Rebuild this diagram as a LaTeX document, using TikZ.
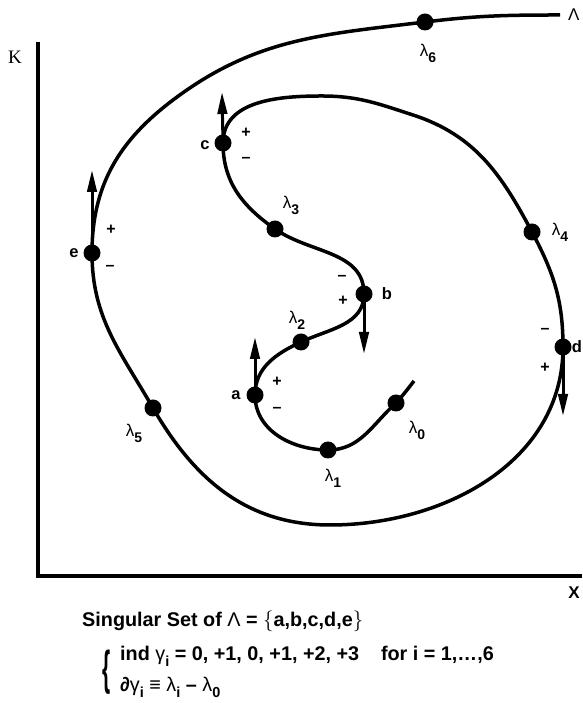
\documentclass[tikz,border=0pt]{standalone}
\usepackage{fontspec}
\setmainfont{Liberation Sans}
\newfontfamily\serif{Liberation Serif}
\usetikzlibrary{arrows.meta}
\newcommand\lsub[2]{{\mdseries #1}\raisebox{-0.36em}{\bfseries\fontsize{14}{14}\selectfont #2}}
\newcommand\tsub[2]{{\mdseries #1}\raisebox{-0.3em}{\bfseries\fontsize{14.5}{14.5}\selectfont #2}}
\begin{document}
\begin{tikzpicture}[x=1pt,y=1pt,
  curve/.style={line width=3.5pt},
  dot/.style={circle,fill=black,inner sep=0pt,minimum size=17pt},
  ptlab/.style={font=\bfseries\fontsize{16.5}{16.5}\selectfont,inner sep=0pt},
  sgn/.style={font=\bfseries\fontsize{16}{16}\selectfont,inner sep=0pt},
  lamlab/.style={font=\fontsize{17}{17}\selectfont,inner sep=0pt},
  vec/.style={line width=3pt,-{Triangle[length=22pt,width=9.5pt]}},
  axis/.style={line width=3.4pt},
  txt/.style={font=\bfseries\fontsize{19.8}{19.8}\selectfont,inner sep=0pt,anchor=base west}]
\useasboundingbox (0,0) rectangle (582,703);
% axes
\coordinate (ytop) at (38,661);
\coordinate (orig) at (38,127);
\coordinate (xend) at (582,127);
\draw[axis] (ytop) -- (orig) -- (xend);
\node[font=\serif\fontsize{19}{19}\selectfont,inner sep=0pt] (K) at (15,646) {K};
\node[font=\bfseries\fontsize{17}{17}\selectfont,inner sep=0pt] (X) at (574,110) {X};
% spiral points
\coordinate (tip) at (414,322);
\coordinate (l0) at (396,300);
\coordinate (l1) at (328,253);
\coordinate (a) at (255,308);
\coordinate (l2) at (301,361);
\coordinate (b) at (364,409);
\coordinate (l3) at (275,474);
\coordinate (c) at (223,560);
\coordinate (ti) at (322,607);
\coordinate (t2) at (413,588);
\coordinate (l4) at (532,471);
\coordinate (d) at (563,356);
\coordinate (bo) at (330,178);
\coordinate (l5) at (153,295);
\coordinate (e) at (92,450);
\coordinate (o1) at (173,603);
\coordinate (l6) at (425,681);
\coordinate (fin) at (560,688);
\draw[curve] (tip) to[out=232,in=48] (l0) to[out=222,in=0] (l1)
  to[out=180,in=270] (a) to[out=90,in=205] (l2) to[out=25,in=270] (b)
  to[out=90,in=325] (l3) to[out=145,in=270] (c) to[out=90,in=180] (ti)
  to[out=0,in=162] (t2) to[out=-18,in=118] (l4) to[out=298,in=90] (d)
  to[out=270,in=0] (bo) to[out=180,in=300] (l5) to[out=120,in=270] (e)
  to[out=90,in=217] (o1) to[out=37,in=187] (l6) to[out=7,in=180] (fin);
% arrows
\coordinate (atop) at (255,366);
\coordinate (ctop) at (222,611);
\coordinate (etop) at (92,533);
\coordinate (bbot) at (364,349);
\coordinate (dbot) at (563,287);
\draw[vec] (a) -- (atop);
\draw[vec] (c) -- (ctop);
\draw[vec] (e) -- (etop);
\draw[vec] (b) -- (bbot);
\draw[vec] (d) -- (dbot);
% dots
\foreach \p in {l0,l1,a,l2,b,l3,c,l4,d,l5,e,l6}
  \node[dot] (n\p) at (\p) {};
% point labels
\node[ptlab] (la) at (236,308) {a};
\node[ptlab] (lb) at (387,409) {b};
\node[ptlab] (lc) at (205,558) {c};
\node[ptlab] (ld) at (577,356) {d};
\node[ptlab] (le) at (74,450) {e};
% signs
\node[sgn] (ap) at (277,321) {+};
\node[sgn] (am) at (277,293) {--};
\node[sgn] (bm) at (342,425) {--};
\node[sgn] (bp) at (343,402) {+};
\node[sgn] (cp) at (246,570) {+};
\node[sgn] (cm) at (246,543) {--};
\node[sgn] (dm) at (545,372) {--};
\node[sgn] (dp) at (545,335) {+};
\node[sgn] (ep) at (111,473) {+};
\node[sgn] (em) at (110,435) {--};
% lambda labels
\node[lamlab] (t0) at (417,273) {\lsub{λ}{0}};
\node[lamlab] (t1) at (333,225) {\lsub{λ}{1}};
\node[lamlab] (t2l) at (297,383) {\lsub{λ}{2}};
\node[lamlab] (t3) at (291,498) {\lsub{λ}{3}};
\node[lamlab] (t4) at (560,471) {\lsub{λ}{4}};
\node[lamlab] (t5) at (134,270) {\lsub{λ}{5}};
\node[lamlab] (t6) at (428,650) {\lsub{λ}{6}};
\node[font=\fontsize{17}{17}\selectfont,inner sep=0pt,anchor=west] (Lam) at (568,688) {Λ};
% text
\node[txt] (s1) at (82,76) {Singular Set of {\mdseries Λ} = $\bigl\{$a,b,c,d,e$\bigr\}$};
\node[txt] (s2) at (120,42) {ind \tsub{γ}{i} = 0, +1, 0, +1, +2, +3\hspace{1.1em}for i = 1,…,6};
\node[txt] (s3) at (120,11) {∂\tsub{γ}{i} ≡ \tsub{λ}{i} – \tsub{λ}{0}};
\node[inner sep=0pt,font=\bfseries\fontsize{19}{19}\selectfont] (br) at (107,31) {\scalebox{1.1}[2.5]{\{}};
\end{tikzpicture}
\end{document}
